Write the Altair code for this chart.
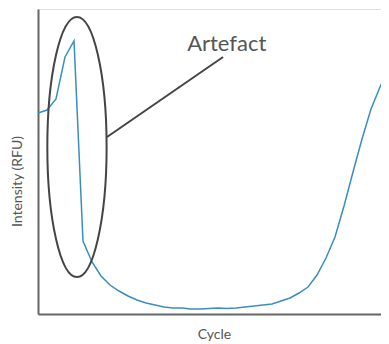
import altair as alt
import pandas as pd

# Fluorescence curve (RFU) per cycle
cycles = list(range(1, 41))
rfu = [2010, 2040, 2150, 2570, 2730, 730, 520, 380, 290, 230,
       180, 140, 110, 90, 70, 60, 60, 50, 50, 55,
       60, 55, 60, 70, 80, 90, 100, 130, 160, 210,
       270, 390, 560, 770, 1080, 1420, 1750, 2050, 2270, 2470]

# Annotation (in data units)
ell_cycle = [5.33]
ell_rfu = [1670]
conn_cycle = [8.67]
conn_rfu = [1770]
conn_cycle2 = [21.56]
conn_rfu2 = [2570]
label_cycle = [21.97]
label_rfu = [2630]
label_text = ["Artefact"]

df = pd.DataFrame({"cycle": cycles, "rfu": rfu})
ell = pd.DataFrame({"cycle": ell_cycle, "rfu": ell_rfu})
conn = pd.DataFrame({"cycle": conn_cycle, "rfu": conn_rfu,
                     "cycle2": conn_cycle2, "rfu2": conn_rfu2})
lab = pd.DataFrame({"cycle": label_cycle, "rfu": label_rfu, "text": label_text})

xs = alt.Scale(domain=[1, 39.11], nice=False, zero=False)
ys = alt.Scale(domain=[0, 3050], nice=False, zero=False)

x_axis = alt.Axis(labels=False, ticks=False, grid=False, title="Cycle",
                  domainColor="#666", domainWidth=2, titleFont="Lato",
                  titleFontSize=14, titleFontWeight="normal", titleColor="#555",
                  titleX=176, titlePadding=13)
y_axis = alt.Axis(labels=False, ticks=False, grid=False, title="Intensity (RFU)",
                  domainColor="#666", domainWidth=2, titleFont="Lato",
                  titleFontSize=14, titleFontWeight="normal", titleColor="#555",
                  titleX=-20.5, titleY=172, titleAngle=270, titleBaseline="middle",
                  titleAlign="center")

line = alt.Chart(df).mark_line(color="#3a8ebf", strokeWidth=1.5, clip=True).encode(
    x=alt.X("cycle:Q", scale=xs, axis=x_axis),
    y=alt.Y("rfu:Q", scale=ys, axis=y_axis),
)

ellipse_path = "M-0.228,0 A0.228,1 0 1,0 0.228,0 A0.228,1 0 1,0 -0.228,0 Z"
ellipse = alt.Chart(ell).mark_point(
    shape=ellipse_path, size=67600, filled=False, stroke="#444",
    strokeWidth=2, opacity=1
).encode(x=alt.X("cycle:Q", scale=xs), y=alt.Y("rfu:Q", scale=ys))

connector = alt.Chart(conn).mark_rule(color="#444", strokeWidth=2).encode(
    x=alt.X("cycle:Q", scale=xs), y=alt.Y("rfu:Q", scale=ys),
    x2="cycle2:Q", y2="rfu2:Q",
)

label = alt.Chart(lab).mark_text(
    font="Lato", fontSize=22, color="#555", align="center", baseline="alphabetic"
).encode(x=alt.X("cycle:Q", scale=xs), y=alt.Y("rfu:Q", scale=ys), text="text:N")

chart = alt.layer(line, connector, ellipse, label).properties(
    width=343, height=305,
    autosize=alt.AutoSizeParams(type="none"),
    padding={"left": 30, "top": 1, "right": 0, "bottom": 30},
).configure_view(stroke=None).configure(background="white")

chart.save("out.html", embed_options={"renderer": "svg", "actions": False})
